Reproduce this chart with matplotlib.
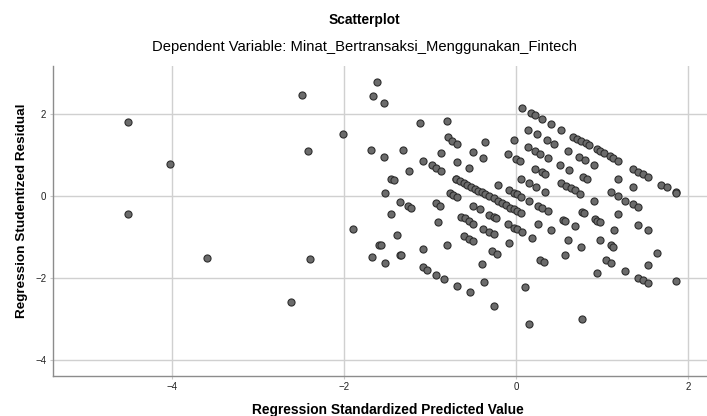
import matplotlib
matplotlib.use("Agg")
import matplotlib.pyplot as plt

plt.rcParams['font.family'] = ['Liberation Sans', 'DejaVu Sans']

title = "Scatterplot"
subtitle = "Dependent Variable: Minat_Bertransaksi_Menggunakan_Fintech"
x_label = "Regression Standardized Predicted Value"
y_label = "Regression Studentized Residual"

x_ticks = [-4, -2, 0, 2]
y_ticks = [-4, -2, 0, 2]

# (standardized predicted, studentized residual)
pred = [
    # far left
    -4.51, -4.03, -4.51, -3.59, -2.62, -2.40, -2.49, -2.42, -2.01, -1.90,
    # upper left block
    -1.62, -1.67, -1.54, -1.12, -0.80, -1.69, -1.535, -1.31, -0.79, -0.75,
    -0.69, -0.87, -0.50, -1.08, -0.98, -0.93, -0.876, -0.69, -0.55, -1.24,
    -1.46, -1.42, -1.52, -0.70, -0.77, -0.73, -0.69,
    # dense chain
    -0.70, -0.65, -0.61, -0.57, -0.53, -0.48, -0.44, -0.40, -0.36, -0.31,
    -0.26, -0.21, -0.17, -0.12, -0.07, -0.03, 0.015, 0.055,
    # upper right block
    -0.357, -0.387, 0.07, 0.17, 0.22, 0.30, 0.41, 0.52, 0.66, 0.71,
    0.76, 0.81, 0.85, 0.94, 0.98, 1.02, 1.09, 1.13, 1.19, 1.36,
    1.42, 1.47, 1.53, 1.69, 1.75, 1.86, 1.86,
    0.14, 0.24, 0.36, 0.44, -0.02, 0.136, 0.22, 0.28, 0.37, 0.60,
    0.73, 0.80, 0.90, -0.09, 0.0, 0.05, 0.22, 0.30, 0.34, 0.51,
    0.62, 0.78, 0.82, 0.06, 0.155, 0.23, 0.34, 0.52, 0.58, 0.64,
    0.69, 0.74, 1.19, 1.36, 1.10, 1.18, -0.21, -0.08, -0.02, 0.01, 0.06,
    # lower left block
    -1.35, -1.26, -1.22, -1.46, -0.93, -0.88, -0.91, -0.50, -0.42, -0.64,
    -0.60, -0.55, -0.50, -1.39, -1.59, -1.57, -1.68, -1.53, -1.35, -1.34,
    -1.08, -0.80, -1.08, -1.035, -0.93, -0.84, -0.69, -0.54, -0.61, -0.55,
    -0.50,
    # lower right block
    -0.32, -0.26, -0.23, -0.39, -0.32, -0.26, -0.28, -0.22, -0.40, -0.37,
    -0.26, -0.085, 0.19, 0.105, 0.15, 0.26, 0.30, 0.37, 0.26, 0.40,
    0.28, 0.32, 0.55, 0.57, 0.69, 0.60, 0.57, 0.76, 0.77, 0.79,
    0.90, 0.92, 0.945, 0.97, 0.98, 1.10, 1.13, 1.04, 1.10, 0.94,
    0.77, 1.14, 1.19, 1.27, 1.36, 1.42, 1.42, 1.53, 1.64, 1.53,
    1.27, 1.42, 1.47, 1.53, 1.86, -0.10, -0.03, 0.01, 0.066, 0.155,
]
resid = [
    1.80, 0.79, -0.43, -1.51, -2.59, -1.54, 2.47, 1.09, 1.51, -0.81,
    2.77, 2.43, 2.26, 1.77, 1.83, 1.13, 0.95, 1.13, 1.44, 1.34,
    1.27, 1.05, 1.06, 0.86, 0.75, 0.68, 0.62, 0.84, 0.68, 0.61,
    0.42, 0.38, 0.07, 0.41, 0.07, 0.02, -0.02,
    0.42, 0.365, 0.32, 0.28, 0.23, 0.18, 0.13, 0.10, 0.05, 0.0,
    -0.06, -0.11, -0.16, -0.22, -0.28, -0.32, -0.37, -0.42,
    1.32, 0.92, 2.13, 2.03, 1.96, 1.87, 1.75, 1.61, 1.44, 1.39,
    1.34, 1.28, 1.25, 1.14, 1.10, 1.05, 0.97, 0.92, 0.85, 0.66,
    0.59, 0.53, 0.46, 0.28, 0.22, 0.09, 0.08,
    1.61, 1.51, 1.37, 1.27, 1.37, 1.19, 1.09, 1.02, 0.92, 1.09,
    0.95, 0.87, 0.75, 1.02, 0.91, 0.85, 0.66, 0.58, 0.53, 0.76,
    0.63, 0.46, 0.41, 0.41, 0.31, 0.22, 0.11, 0.32, 0.25, 0.19,
    0.15, 0.06, 0.41, 0.22, 0.09, 0.01, 0.28, 0.15, 0.08, 0.04, -0.03,
    -0.14, -0.24, -0.28, -0.44, -0.18, -0.24, -0.63, -0.24, -0.32, -0.50,
    -0.54, -0.60, -0.68, -0.96, -1.18, -1.18, -1.48, -1.64, -1.44, -1.43,
    -1.30, -1.20, -1.73, -1.80, -1.92, -2.01, -2.19, -2.34, -0.97, -1.04,
    -1.10,
    -0.45, -0.50, -0.54, -0.80, -0.87, -0.93, -1.34, -1.41, -1.65, -2.10,
    -2.68, -1.14, -1.01, -2.22, -3.12, -0.24, -0.28, -0.37, -0.68, -0.83,
    -1.56, -1.60, -0.58, -0.60, -0.73, -1.06, -1.44, -1.24, -0.39, -0.42,
    -0.12, -0.57, -0.60, -0.62, -1.06, -1.20, -1.23, -1.56, -1.64, -1.88,
    -2.99, -0.82, -0.44, -0.11, -0.20, -0.26, -0.70, -0.83, -1.38, -1.69,
    -1.82, -1.99, -2.05, -2.12, -2.07, -0.69, -0.78, -0.81, -0.88, -0.12,
]

fig = plt.figure(figsize=(7.07, 4.16), dpi=100)
ax = fig.add_axes([0.0745, 0.096, 0.9255, 0.745])

ax.scatter(pred, resid, s=26, facecolor='#6b6b6b', edgecolor='#2e2e2e',
           linewidth=0.8, zorder=3)

ax.set_xlim(-5.39, 2.22)
ax.set_ylim(-4.38, 3.16)
ax.set_xticks(x_ticks)
ax.set_yticks(y_ticks)
ax.grid(True, color='#d0d0d0', linewidth=1.0, zorder=0)
ax.set_axisbelow(True)

for side in ['top', 'right']:
    ax.spines[side].set_visible(False)
for side in ['left', 'bottom']:
    ax.spines[side].set_color('#8c8c8c')
    ax.spines[side].set_linewidth(1.0)

ax.tick_params(axis='both', length=2, color='#c8c8c8', labelsize=7,
               labelcolor='#222222', pad=2.5)

ax.set_xlabel(x_label, fontsize=9.9, fontweight='bold')
ax.set_ylabel(y_label, fontsize=9.7, fontweight='bold')
ax.xaxis.set_label_coords(0.5117, -0.088)
ax.yaxis.set_label_coords(-0.038, 0.533)

fig.text(0.5156, 0.952, title, ha='center', va='center', fontsize=9.9,
         fontweight='bold')
fig.text(0.5156, 0.888, subtitle, ha='center', va='center', fontsize=10.6)

fig.savefig("out.png", dpi=100)
